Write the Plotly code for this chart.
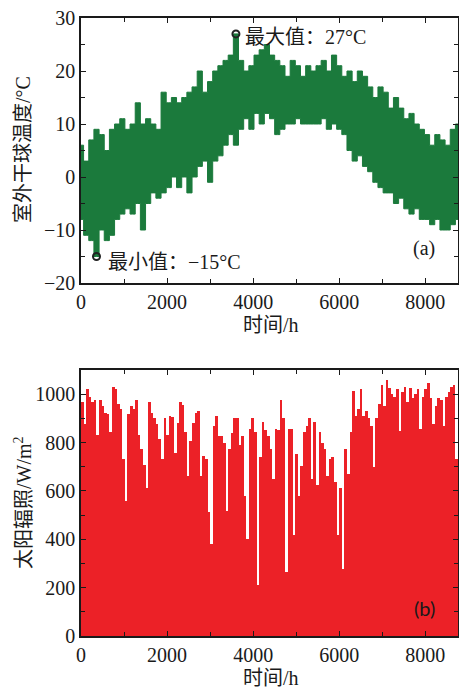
import plotly.graph_objects as go

# ---------------- data ----------------
# (a) outdoor dry-bulb temperature envelope, sampled every 120 h
temp_hours = list(range(0, 8761, 120))
temp_high = [6, 3, 7, 9, 8, 5, 9, 10, 11, 9,
             10, 14, 10, 11, 10, 9, 16, 14, 15, 14,
             15, 16, 17, 20, 16, 18, 20, 21, 22, 23,
             27, 22, 20, 21, 23, 24, 25, 23, 22, 21,
             19, 22, 21, 19, 21, 20, 21, 22, 20, 23,
             21, 19, 20, 18, 20, 19, 17, 15, 17, 16,
             13, 15, 13, 11, 12, 10, 9, 8, 6, 8,
             7, 6, 9, 10]
temp_low = [-8, -11, -12, -15, -10, -12, -11, -8, -7, -6,
            -7, -5, -10, -5, -3, -4, -3, -2, 0, -2,
            0, -3, 0, 2, 3, -1, 3, 4, 6, 8,
            6, 9, 11, 9, 12, 10, 12, 11, 8, 9,
            10, 10, 11, 10, 10, 10, 10, 11, 9, 10,
            9, 8, 5, 3, 4, 2, 1, -1, -2, -3,
            -3, -5, -4, -6, -7, -6, -8, -8, -9, -8,
            -10, -10, -9, -8]
max_point = (3600, 27)
min_point = (360, -15)

# (b) solar irradiance, peak value per 60 h bin
solar_hours = list(range(0, 8760, 60))
solar_peak = [968, 877, 1020, 990, 968, 975, 830, 975, 950, 924,
              920, 843, 1030, 1020, 960, 940, 733, 560, 917, 952,
              940, 975, 830, 775, 706, 610, 968, 924, 900, 877,
              815, 733, 900, 830, 910, 905, 757, 880, 968, 955,
              843, 663, 808, 880, 924, 932, 663, 746, 733, 511,
              380, 870, 911, 828, 828, 800, 518, 774, 840, 900,
              900, 788, 828, 580, 400, 856, 900, 843, 209, 740,
              884, 850, 828, 774, 650, 856, 850, 975, 900, 264,
              856, 856, 416, 753, 580, 705, 843, 870, 900, 650,
              884, 626, 843, 800, 774, 663, 733, 740, 636, 416,
              610, 278, 774, 670, 842, 1012, 910, 940, 1020, 910,
              932, 900, 870, 700, 900, 960, 1040, 950, 1060, 1025,
              1000, 990, 1020, 847, 1010, 1030, 968, 1025, 985, 1000,
              1020, 856, 990, 1020, 1045, 985, 875, 950, 985, 975,
              870, 990, 1010, 1030, 1040, 733]

x_ticks = [0, 2000, 4000, 6000, 8000]

# ---------------- styling ----------------
GREEN = "#1b7a3c"
RED = "#ec2127"
INK = "#1a1a1a"
FONT = "Liberation Serif, Noto Sans CJK SC, serif"
W, H = 459, 690


def px_x(p):
    return p / W


def px_y(p):
    return 1 - p / H


fig = go.Figure()

fig.add_trace(go.Scatter(x=temp_hours, y=temp_low, mode="lines",
                         line=dict(color=GREEN, width=1, shape="hvh"),
                         xaxis="x", yaxis="y", showlegend=False, hoverinfo="skip"))
fig.add_trace(go.Scatter(x=temp_hours, y=temp_high, mode="lines",
                         line=dict(color=GREEN, width=1, shape="hvh"),
                         fill="tonexty", fillcolor=GREEN,
                         xaxis="x", yaxis="y", showlegend=False))
fig.add_trace(go.Scatter(x=[max_point[0], min_point[0]], y=[max_point[1], min_point[1]],
                         mode="markers",
                         marker=dict(symbol="circle-open", size=7, color="#222",
                                     line=dict(width=2, color="#222")),
                         xaxis="x", yaxis="y", showlegend=False))

fig.add_trace(go.Bar(x=solar_hours, y=solar_peak, width=60, offset=0,
                     marker=dict(color=RED, line=dict(width=0)),
                     xaxis="x2", yaxis="y2", showlegend=False))

axis_common = dict(showline=True, linecolor=INK, linewidth=1.6, mirror="ticks",
                   ticks="inside", ticklen=5, tickwidth=1.3, tickcolor=INK,
                   showgrid=False, zeroline=False, automargin=False,
                   tickfont=dict(family=FONT, size=20, color=INK))
minor_common = dict(ticks="inside", ticklen=4, tickcolor=INK, tickwidth=1.2)

fig.update_layout(
    width=W, height=H,
    margin=dict(l=0, r=0, t=0, b=0, autoexpand=False),
    paper_bgcolor="white", plot_bgcolor="white",
    bargap=0,
    xaxis=dict(domain=[px_x(81), px_x(458)], range=[0, 8760], anchor="y",
               tickvals=x_ticks, minor=dict(dtick=1000, **minor_common),
               **axis_common),
    yaxis=dict(domain=[px_y(283), px_y(18)], range=[-20, 30], anchor="x",
               dtick=10, minor=dict(dtick=5, **minor_common),
               **axis_common),
    xaxis2=dict(domain=[px_x(81), px_x(458)], range=[0, 8760], anchor="y2",
                tickvals=x_ticks, minor=dict(dtick=1000, **minor_common),
                **axis_common),
    yaxis2=dict(domain=[px_y(636), px_y(370)], range=[0, 1100], anchor="x2",
                dtick=200, minor=dict(dtick=100, **minor_common),
                **axis_common),
)

ann_font = dict(family=FONT, size=20, color=INK)
annotations = [
    dict(text="最大值：27°C", x=max_point[0], y=max_point[1], xref="x", yref="y",
         xanchor="left", yanchor="middle", xshift=7, yshift=-3, showarrow=False, font=ann_font),
    dict(text="最小值：−15°C", x=min_point[0], y=min_point[1], xref="x", yref="y",
         xanchor="left", yanchor="middle", xshift=10, yshift=-5, showarrow=False, font=ann_font),
    dict(text="(a)", x=px_x(424), y=px_y(248), xref="paper", yref="paper",
         xanchor="center", yanchor="middle", showarrow=False, font=ann_font),
    dict(text="(b)", x=px_x(424), y=px_y(608), xref="paper", yref="paper",
         xanchor="center", yanchor="middle", showarrow=False,
         font=dict(family="Lato, Open Sans, sans-serif", size=20, color=INK)),
    dict(text="室外干球温度/°C", x=px_x(23), y=px_y(150), xref="paper", yref="paper",
         textangle=-90, xanchor="center", yanchor="middle", showarrow=False, font=ann_font),
    dict(text="太阳辐照/W/m<sup>2</sup>", x=px_x(23), y=px_y(503), xref="paper", yref="paper",
         textangle=-90, xanchor="center", yanchor="middle", showarrow=False, font=ann_font),
    dict(text="时间/h", x=px_x(271), y=px_y(325), xref="paper", yref="paper",
         xanchor="center", yanchor="middle", showarrow=False, font=ann_font),
    dict(text="时间/h", x=px_x(271), y=px_y(678), xref="paper", yref="paper",
         xanchor="center", yanchor="middle", showarrow=False, font=ann_font),
]
fig.update_layout(annotations=annotations)

fig.write_html(
    "out.html",
    config={"displayModeBar": False},
    post_script="document.body.style.margin='0';document.body.style.overflow='hidden';",
)
